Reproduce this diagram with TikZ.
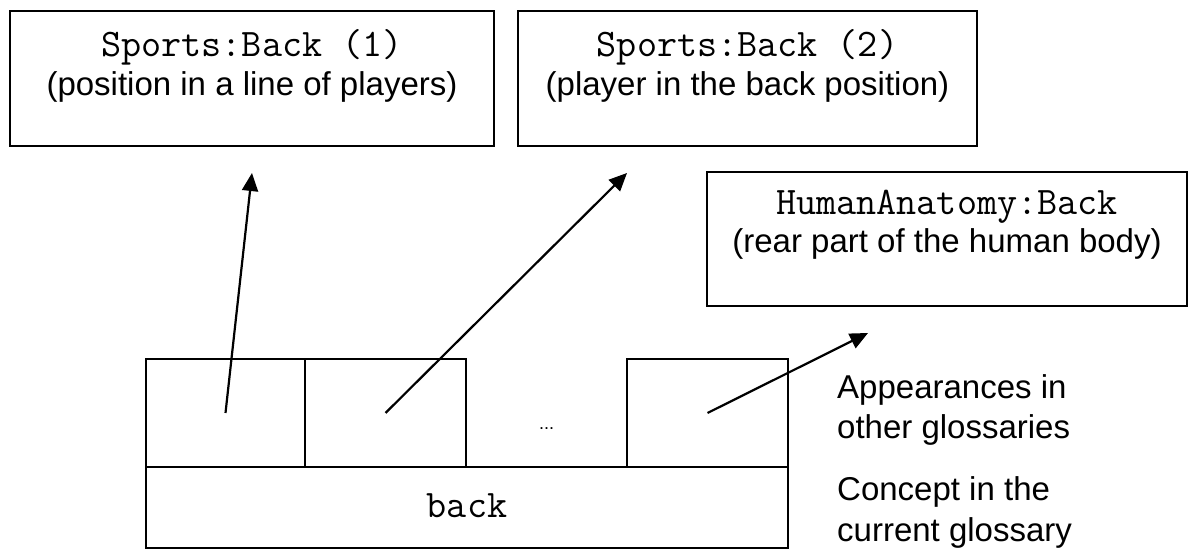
\documentclass[tikz,border=0pt]{standalone}
\usepackage{fontspec}
\setmainfont{Liberation Sans}
\usetikzlibrary{arrows.meta}
\tikzset{box/.style={draw, line width=2pt, inner sep=0pt},
	code/.style={font=\fontsize{39}{44}\selectfont\ttfamily, inner sep=0pt, anchor=base},
	gloss/.style={font=\fontsize{33}{40}\selectfont, inner sep=0pt, anchor=base},
	note/.style={font=\fontsize{33}{40}\selectfont, inner sep=0pt, align=left, anchor=base west},
	link/.style={line width=2.2pt, -{Triangle[width=16pt,length=18pt]}}}

\begin{document}
\begin{tikzpicture}[x=1pt,y=1pt]
		\useasboundingbox (0,0) rectangle (1189,549);
		% senses in other glossaries
		\node[box, minimum width=484pt, minimum height=135pt] (sports1) at (252,470.5) {};
		\node[code]  (sports1name) at ([yshift=-47pt]sports1.north) {Sports:Back (1)};
		\node[gloss] (sports1def)  at ([yshift=-86pt]sports1.north) {(position in a line of players)};
		\node[box, minimum width=459pt, minimum height=135pt] (sports2) at (747.5,470.5) {};
		\node[code]  (sports2name) at ([yshift=-47pt]sports2.north) {Sports:Back (2)};
		\node[gloss] (sports2def)  at ([yshift=-86pt]sports2.north) {(player in the back position)};
		\node[box, minimum width=480pt, minimum height=134pt] (anatomy) at (947,310) {};
		\node[code]  (anatomyname) at ([yshift=-44pt]anatomy.north) {HumanAnatomy:Back};
		\node[gloss] (anatomydef)  at ([yshift=-82pt]anatomy.north) {(rear part of the human body)};
		% concept and its appearances
		\node[box, minimum width=642pt, minimum height=81pt] (concept) at (467,41.5) {};
		\node[code] (conceptname) at ([yshift=-10pt]concept.center) {back};
		\node[box, minimum width=159pt, minimum height=108pt] (cell1) at (225.5,136) {};
		\node[box, minimum width=161pt, minimum height=108pt] (cell2) at (385.5,136) {};
		\node[box, minimum width=161pt, minimum height=108pt] (cell4) at (707.5,136) {};
		\node[font=\fontsize{18}{22}\selectfont, inner sep=0pt, anchor=base] (more) at (546.5,119) {...};
		% free ends of the links
		\coordinate (tip1) at (252,376);
		\coordinate (tip2) at (627,376);
		\coordinate (tip4) at (868,216);
		\draw[link] (cell1.center) -- (tip1);
		\draw[link] (cell2.center) -- (tip2);
		\draw[link] (cell4.center) -- (tip4);
		% side notes (anchored on their last line)
		\node[note] (appearnote)  at (837,110) {Appearances in\\other glossaries};
		\node[note] (conceptnote) at (837,8)   {Concept in the\\current glossary};
	\end{tikzpicture}
\end{document}
